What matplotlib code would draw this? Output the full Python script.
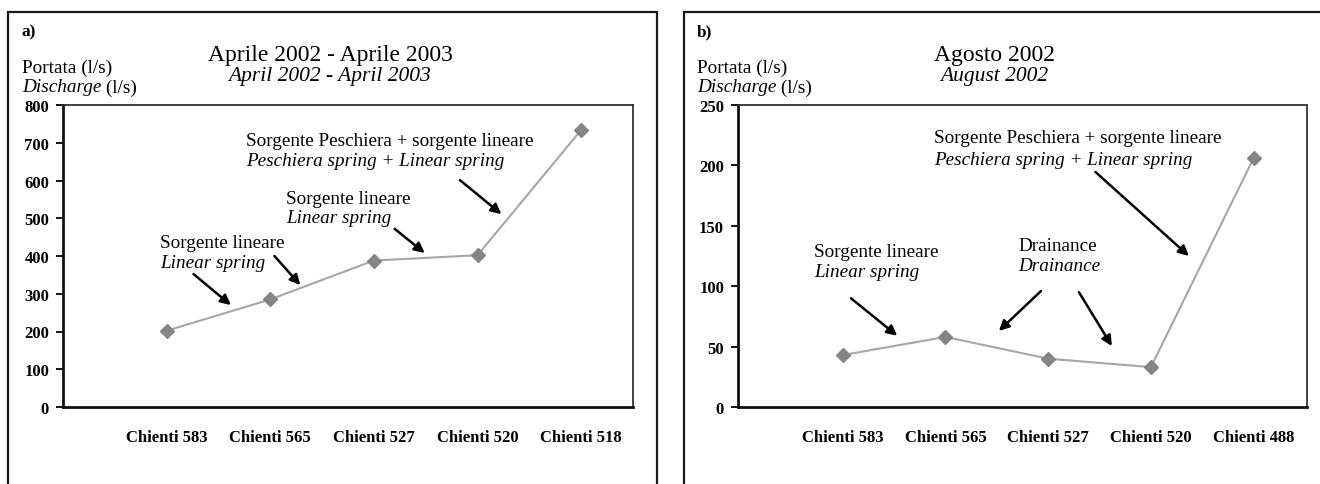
import matplotlib
matplotlib.use("Agg")
import matplotlib.pyplot as plt
from matplotlib.patches import Rectangle

# data
cats_a = ["Chienti 583", "Chienti 565", "Chienti 527", "Chienti 520", "Chienti 518"]
vals_a = [202, 285, 388, 402, 734]
cats_b = ["Chienti 583", "Chienti 565", "Chienti 527", "Chienti 520", "Chienti 488"]
vals_b = [43, 58, 40, 33, 206]

W, H = 1320, 485
plt.rcParams["font.family"] = ["Liberation Serif", "DejaVu Serif"]

fig = plt.figure(figsize=(W / 100, H / 100), dpi=100)
fig.patch.set_facecolor("white")

ANN = 13.8  # annotation font size


def px(x, y):
	# pixel coordinates (from top-left) -> figure fraction
	return x / W, 1 - y / H


def add_axes_px(x0, y0, x1, y1):
	l, t = px(x0, y0)
	r, b = px(x1, y1)
	return fig.add_axes([l, b, r - l, t - b])


# outer frames of the two panels
for x0, x1 in [(8, 657), (684, 1340)]:
	l, t = px(x0, 13)
	r, b = px(x1, 500)
	fig.add_artist(Rectangle((l, b), r - l, t - b, transform=fig.transFigure,
		fill=False, edgecolor="#1a1a1a", linewidth=1.6, clip_on=False))


def panel(ax, cats, vals, ymax, ystep, xlim):
	x = list(range(len(cats)))
	ax.plot(x, vals, color="#a6a6a6", linewidth=1.5, marker="D", markersize=7,
		markerfacecolor="#858585", markeredgecolor="#858585", zorder=3)
	ax.set_xlim(*xlim)
	ax.set_ylim(0, ymax)
	ax.set_yticks(range(0, ymax + 1, ystep))
	ax.set_xticks(x)
	ax.set_xticklabels(cats)
	ax.tick_params(axis="x", length=0, pad=16, labelsize=12)
	ax.tick_params(axis="y", length=5, width=1.3, pad=5, labelsize=12, direction="out")
	for lab in ax.get_xticklabels() + ax.get_yticklabels():
		lab.set_fontweight("bold")
	for side in ["left", "bottom"]:
		ax.spines[side].set_linewidth(2.0)
		ax.spines[side].set_color("#111111")
	for side in ["top", "right"]:
		ax.spines[side].set_linewidth(1.3)
		ax.spines[side].set_color("#333333")
	ax.set_facecolor("white")


def arrow(ax, xy_from, xy_to):
	ax.annotate("", xy=xy_to, xytext=xy_from,
		arrowprops=dict(arrowstyle="-|>", color="black", lw=1.8, mutation_scale=15,
			shrinkA=0, shrinkB=0))


def label2(ax, x, y1, y2, top, bottom, size=ANN):
	ax.text(x, y1, top, fontsize=size, ha="left", va="center")
	ax.text(x, y2, bottom, fontsize=size, ha="left", va="center", style="italic")


def header(x_letter, letter, x_title, title, title_it):
	fig.text(*px(x_letter, 32), letter, fontsize=12.5, fontweight="bold", va="center")
	fig.text(*px(x_title, 55), title, fontsize=17, ha="center", va="center")
	fig.text(*px(x_title, 77), title_it, fontsize=15.5, ha="center", va="center", style="italic")
	fig.text(*px(x_letter, 68), "Portata (l/s)", fontsize=13.9, va="center")
	t = fig.text(*px(x_letter, 88), "Discharge", fontsize=13.9, va="center", style="italic")
	fig.canvas.draw()
	bb = t.get_window_extent()
	fig.text(bb.x1 / W, 1 - 88 / H, " (l/s)", fontsize=13.9, va="center")


# panel a
ax1 = add_axes_px(63, 106, 633, 408)
panel(ax1, cats_a, vals_a, 800, 100, (-1.0, 4.5))
label2(ax1, 0.77, 705, 652, "Sorgente Peschiera + sorgente lineare", "Peschiera spring + Linear spring")
arrow(ax1, (2.83, 601), (3.23, 511))
label2(ax1, 1.15, 551, 501, "Sorgente lineare", "Linear spring")
arrow(ax1, (2.20, 472), (2.49, 408))
label2(ax1, -0.06, 437, 384, "Sorgente lineare", "Linear spring")
arrow(ax1, (0.26, 352), (0.62, 270))
arrow(ax1, (1.04, 400), (1.29, 323))

# panel b
ax2 = add_axes_px(738, 106, 1307, 408)
panel(ax2, cats_b, vals_b, 250, 50, (-1.02, 4.52))
label2(ax2, 0.89, 223.5, 205, "Sorgente Peschiera + sorgente lineare", "Peschiera spring + Linear spring")
arrow(ax2, (2.46, 194.6), (3.37, 125))
label2(ax2, -0.28, 129, 112, "Sorgente lineare", "Linear spring")
arrow(ax2, (0.08, 90), (0.53, 59))
label2(ax2, 1.71, 134, 117, "Drainance", "Drainance")
arrow(ax2, (1.93, 96), (1.52, 63))
arrow(ax2, (2.30, 95), (2.62, 50.5))

header(22, "a)", 330, "Aprile 2002 - Aprile 2003", "April 2002 - April 2003")
header(697, "b)", 994, "Agosto 2002", "August 2002")

fig.savefig("out.png", dpi=100)
